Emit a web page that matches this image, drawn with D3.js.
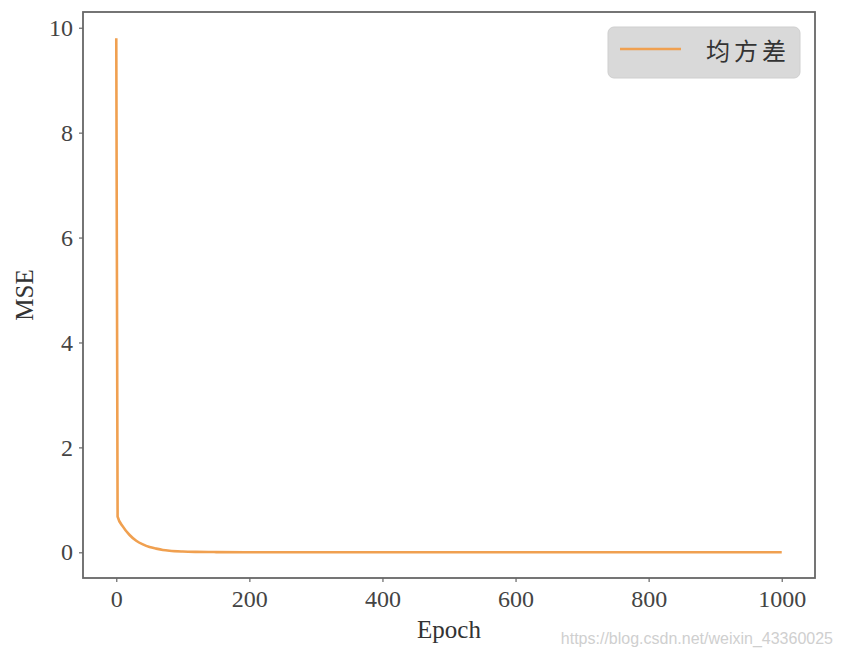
<!DOCTYPE html>
<html>
<head>
<meta charset="utf-8">
<script src="https://cdn.jsdelivr.net/npm/d3@7"></script>
<style>
  body { margin: 0; background: #fff; }
  svg { display: block; }
</style>
</head>
<body>
<div id="chart"></div>
<script>
// data
var epochs = [0, 2, 10, 20, 30, 40, 50, 60, 70, 80, 100, 120, 150, 200, 300, 400, 500, 600, 700, 800, 900, 1000];
var mse    = [9.8, 0.68, 0.49, 0.33, 0.22, 0.15, 0.10, 0.07, 0.045, 0.03, 0.015, 0.008, 0.004, 0.002, 0.001, 0.001, 0.001, 0.001, 0.001, 0.001, 0.001, 0.001];
var xTicks = [0, 200, 400, 600, 800, 1000];
var yTicks = [0, 2, 4, 6, 8, 10];
var seriesName = "均方差";

var W = 842, H = 656;
var margin = {top: 12, right: 27, bottom: 78, left: 83},
    width = W - margin.left - margin.right,
    height = H - margin.top - margin.bottom;

var svg = d3.select("#chart")
  .append("svg")
    .attr("width", W)
    .attr("height", H);

var g = svg.append("g")
    .attr("transform", "translate(" + margin.left + "," + margin.top + ")");

var x = d3.scaleLinear().domain([-50, 1050]).range([0, width]);
var y = d3.scaleLinear().domain([-0.49, 10.3]).range([height, 0]);

var axisColor = "#666";
var font = "'Liberation Serif', 'DejaVu Serif', serif";

// x axis
var xa = g.append("g")
    .attr("transform", "translate(0," + height + ")")
    .call(d3.axisBottom(x).tickValues(xTicks).tickFormat(d3.format("d")).tickSize(4).tickPadding(8));
xa.selectAll("text").style("font-family", font).style("font-size", "24px").attr("fill", "#444");

// y axis
var ya = g.append("g")
    .call(d3.axisLeft(y).tickValues(yTicks).tickFormat(d3.format("d")).tickSize(4).tickPadding(6));
ya.selectAll("text").style("font-family", font).style("font-size", "24px").attr("fill", "#444");

g.selectAll(".domain").remove();
g.selectAll(".tick line").attr("stroke", axisColor).attr("stroke-width", 1.2);

// frame
g.append("rect")
    .attr("width", width)
    .attr("height", height)
    .attr("fill", "none")
    .attr("stroke", axisColor)
    .attr("stroke-width", 1.8);

// line
var line = d3.line()
    .x(function(d, i) { return x(epochs[i]); })
    .y(function(d) { return y(d); })
    .curve(d3.curveMonotoneX);

g.append("path")
    .datum(mse)
    .attr("fill", "none")
    .attr("stroke", "#f0a050")
    .attr("stroke-width", 2.6)
    .attr("d", line);

// axis labels
svg.append("text")
    .attr("x", margin.left + width / 2)
    .attr("y", 638)
    .attr("text-anchor", "middle")
    .style("font-family", font)
    .style("font-size", "25px")
    .attr("fill", "#333")
    .text("Epoch");

svg.append("text")
    .attr("transform", "translate(33," + (margin.top + height / 2) + ") rotate(-90)")
    .attr("text-anchor", "middle")
    .style("font-family", font)
    .style("font-size", "25px")
    .attr("fill", "#333")
    .text("MSE");

// legend
var lg = svg.append("g").attr("transform", "translate(608,27)");
lg.append("rect")
    .attr("width", 192)
    .attr("height", 51)
    .attr("rx", 6)
    .attr("fill", "#d9d9d9")
    .attr("stroke", "#cfcfcf");
lg.append("line")
    .attr("x1", 12).attr("x2", 73)
    .attr("y1", 22).attr("y2", 22)
    .attr("stroke", "#f0a050")
    .attr("stroke-width", 2.6);
lg.append("text")
    .attr("x", 98)
    .attr("y", 33)
    .style("font-family", "'Noto Sans CJK SC', sans-serif")
    .style("font-size", "24px")
    .style("letter-spacing", "4px")
    .attr("fill", "#333")
    .text(seriesName);

// watermark
svg.append("text")
    .attr("x", 833)
    .attr("y", 644)
    .attr("text-anchor", "end")
    .style("font-family", "'Liberation Sans', Arial, sans-serif")
    .style("font-size", "16px")
    .attr("fill", "#cfcfcf")
    .text("https://blog.csdn.net/weixin_43360025");
</script>
</body>
</html>
